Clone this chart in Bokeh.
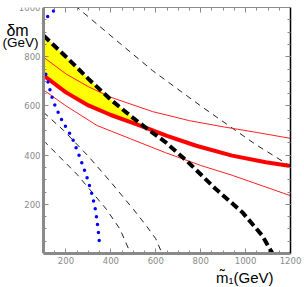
from bokeh.plotting import figure
from bokeh.models import LinearAxis, FixedTicker, Range1d, Title
from bokeh.core.properties import value
from bokeh.embed import file_html
from bokeh.resources import INLINE

# ---- data ----
black_thick_x = [100, 200, 300, 400, 500, 560, 640, 740, 866, 985, 1074, 1120]
black_thick_y = [886, 800, 710, 625, 550, 508, 455, 375, 263, 168, 73, 0]

red_thick_x = [100, 200, 300, 400, 500, 560, 650, 780, 940, 1090, 1200]
red_thick_y = [724, 655, 602, 563, 530, 510, 478, 438, 398, 371, 356]

red_up_x = [100, 200, 300, 400, 585, 750, 900, 1050, 1200]
red_up_y = [798, 730, 678, 635, 577, 540, 515, 492, 468]

red_lo_x = [100, 200, 339, 488, 643, 800, 940, 1200]
red_lo_y = [665, 600, 520, 466, 410, 358, 318, 235]

dash_up_x = [240, 400, 585, 800, 956, 1045, 1200]
dash_up_y = [1008, 885, 744, 600, 500, 443, 355]

dash_mid_x = [100, 190, 300, 400, 500, 560, 600, 628]
dash_mid_y = [574, 500, 395, 290, 180, 110, 60, 0]

dash_lo_x = [100, 250, 380, 440, 488]
dash_lo_y = [459, 321, 180, 100, 0]

# blue dotted curve: the two visible pieces (it leaves the plot at the left edge)
blue_lo_x = [100, 110, 122, 136, 152, 170, 188, 210, 230, 258, 282, 297, 318, 333, 343, 351]
blue_lo_y = [760, 730, 690, 640, 600, 565, 530, 500, 465, 400, 340, 300, 235, 170, 100, 25]
blue_up_x = [100, 106, 130, 165, 180]
blue_up_y = [936, 950, 975, 1000, 1010]

x_major = [200, 400, 600, 800, 1000, 1200]
x_minor = list(range(100, 1201, 50))
y_major = [200, 400, 600, 800, 1000]
y_minor = list(range(0, 1001, 50))
x_lo, x_hi = 100, 1200
y_lo, y_hi = 0, 1000

y_title_1 = "δm"
y_title_2 = "(GeV)"
x_title = "m\u0303\u2081(GeV)"

# ---- figure: frame spans the left margin so titles can be drawn as text ----
p = figure(width=304, height=287, x_range=Range1d(-91.5, x_hi), y_range=Range1d(y_lo, y_hi),
           output_backend="svg", toolbar_location=None,
           x_axis_location=None, y_axis_location=None,
           min_border_left=0, min_border_right=14, min_border_top=7, min_border_bottom=34)
p.xgrid.visible = False
p.ygrid.visible = False
p.outline_line_color = None
p.background_fill_color = "white"
p.border_fill_color = "white"

GRAY = "#8a8a8a"

def mk_axis(ticks, minor, line_color, line_width, labels, **kw):
    ax = LinearAxis(ticker=FixedTicker(ticks=ticks, minor_ticks=minor),
                    axis_line_color=line_color, axis_line_width=line_width,
                    major_tick_in=5, major_tick_out=0, minor_tick_in=3, minor_tick_out=0,
                    major_tick_line_color=GRAY, minor_tick_line_color=GRAY,
                    major_label_text_color=GRAY, major_label_text_font="DejaVu Sans",
                    major_label_text_font_size="8.5px" if labels else "0px",
                    major_label_standoff=3, **kw)
    return ax

p.add_layout(mk_axis(y_major, y_minor, GRAY, 3, True, fixed_location=x_lo), "left")
p.add_layout(mk_axis(x_major, x_minor, GRAY, 3, True, bounds=(x_lo, x_hi)), "below")
p.add_layout(mk_axis(x_major, x_minor, GRAY, 1, False, bounds=(x_lo, x_hi)), "above")
p.add_layout(mk_axis(y_major, y_minor, "black", 1.5, False), "right")

# ---- yellow region between thick red and thick dashed ----
n_b = sum(1 for v in black_thick_x if v <= 560)
n_r = sum(1 for v in red_thick_x if v <= 560)
fill_x = black_thick_x[:n_b] + red_thick_x[:n_r][::-1]
fill_y = black_thick_y[:n_b] + red_thick_y[:n_r][::-1]
p.patch(fill_x, fill_y, fill_color="#ffff00", line_color=None)

# ---- lines ----
p.line(dash_up_x, dash_up_y, line_color="#222222", line_width=1, line_dash="6 5")
p.line(dash_mid_x, dash_mid_y, line_color="#222222", line_width=1, line_dash="6 5")
p.line(dash_lo_x, dash_lo_y, line_color="#222222", line_width=1, line_dash="6 5")

p.line(red_up_x, red_up_y, line_color="#ff2020", line_width=1)
p.line(red_lo_x, red_lo_y, line_color="#ff2020", line_width=1)
p.line(red_thick_x, red_thick_y, line_color="#ff0000", line_width=4)

p.line(black_thick_x, black_thick_y, line_color="black", line_width=4, line_dash="8 4")

for bx, by in ((blue_lo_x, blue_lo_y), (blue_up_x, blue_up_y)):
    p.line(bx, by, line_color="#0000ff", line_width=3.5, line_dash="0 8", line_cap="round")

# ---- titles ----
FONT = "Liberation Sans"
p.text(x=[-65], y=[908], text=[y_title_1], text_font=value(FONT), text_font_size="16px",
       text_color="black", text_baseline="alphabetic", text_align="left")
p.text(x=[-83], y=[857], text=[y_title_2], text_font=value(FONT), text_font_size="13.5px",
       text_color="black", text_baseline="alphabetic", text_align="left")

p.add_layout(Title(text=x_title, align="right", offset=17, standoff=0,
                   text_font=FONT, text_font_size="15px", text_font_style="normal",
                   text_color="black"), "below")

open("out.html", "w").write(file_html(p, INLINE))
